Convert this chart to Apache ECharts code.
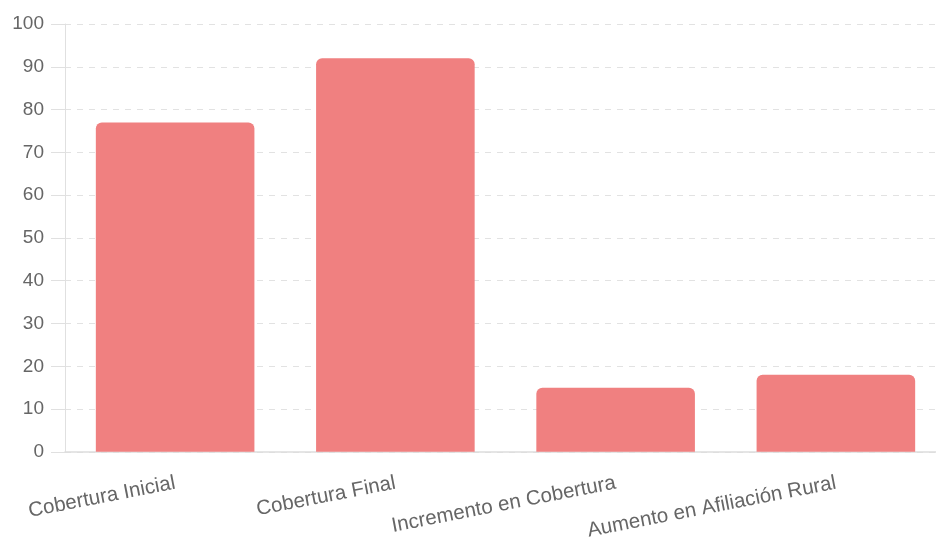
<!DOCTYPE html>
<html>
<head>
<meta charset="utf-8">
<script src="https://cdn.jsdelivr.net/npm/echarts@6/dist/echarts.min.js"></script>
<style>
  html, body { margin: 0; padding: 0; background: #fff; overflow: hidden; }
  /* the plot runs a little past the right edge of the window, as in the original */
  #main { width: 946px; height: 542px; }
</style>
</head>
<body>
<div id="main"></div>
<script>
const categories = ['Cobertura Inicial', 'Cobertura Final', 'Incremento en Cobertura', 'Aumento en Afiliación Rural']
const values = [77, 92, 15, 18]

const chart = echarts.init(document.getElementById('main'))
chart.setOption({
  animation: false,
  grid: { left: 65, right: 0, top: 24, bottom: 87 },
  xAxis: {
    type: 'category',
    data: categories,
    axisLine: { lineStyle: { color: '#dddddd', width: 1.5 } },
    axisTick: { show: false },
    axisLabel: {
      rotate: 11,
      interval: 0,
      margin: 31,
      color: '#666',
      fontSize: 20.5,
      fontFamily: 'Liberation Sans'
    }
  },
  yAxis: {
    type: 'value',
    min: 0,
    max: 100,
    interval: 10,
    axisLine: { show: true, lineStyle: { color: '#e0e0e0' } },
    axisTick: { show: true, length: 14, lineStyle: { color: '#e0e0e0' } },
    splitLine: { lineStyle: { color: '#e2e2e2', type: [6, 6] } },
    axisLabel: {
      color: '#666',
      fontSize: 19,
      margin: 21,
      fontFamily: 'Liberation Sans'
    }
  },
  series: [{
    type: 'bar',
    data: values,
    barWidth: '72%',
    itemStyle: { color: '#F08080', borderRadius: [6, 6, 0, 0] }
  }]
})
</script>
</body>
</html>
